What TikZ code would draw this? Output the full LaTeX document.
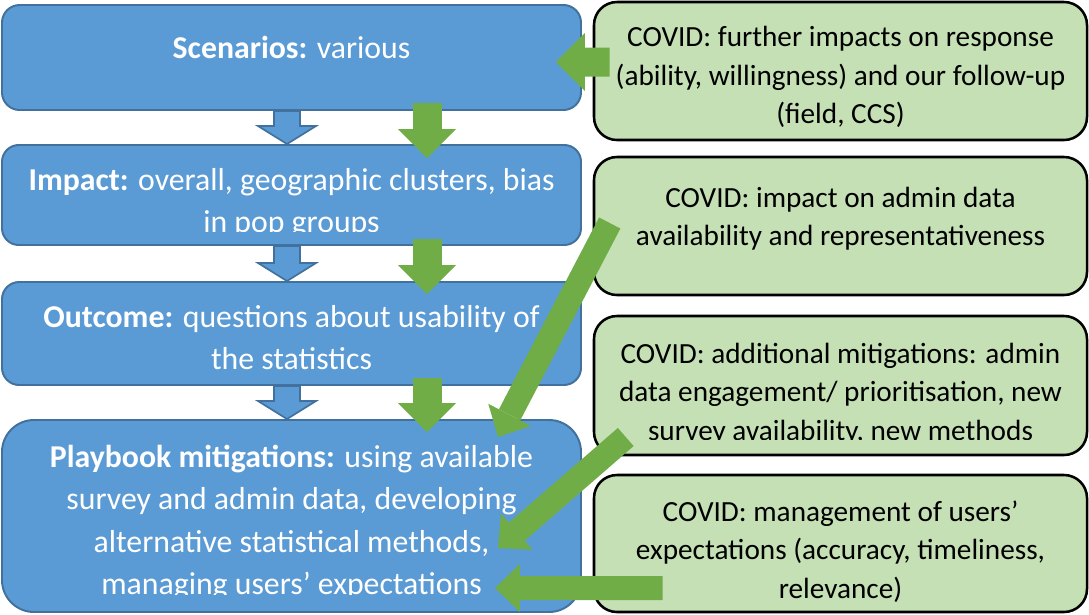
\documentclass[tikz,border=0pt]{standalone}
\usepackage{fontspec}
\setmainfont{Carlito}
\usetikzlibrary{arrows.meta,calc}

\definecolor{stagefill}{HTML}{5B9BD5}
\definecolor{stageline}{HTML}{41719C}
\definecolor{covidfill}{HTML}{C5E0B4}
\definecolor{covidarrow}{HTML}{70AD47}

% outlined block arrow from #1 down to its tip #2
\newcommand{\stagearrow}[2]{%
  \draw[stageflow] ($(#1)+(-0.325,0)$) -- ($(#2)+(-0.325,0.45)$)
    -- ($(#2)+(-0.725,0.45)$) -- (#2) -- ($(#2)+(0.725,0.45)$)
    -- ($(#2)+(0.325,0.45)$) -- ($(#1)+(0.325,0)$) -- cycle;}

\begin{document}
\begin{tikzpicture}[
    stage/.style = {
      draw = stageline,
      fill = stagefill,
      line width = 1.4pt,
      minimum width = 14.475cm
    },
    stagetext/.style = {
      text = white,
      align = center,
      font = \fontsize{22.6}{30}\selectfont
    },
    covid/.style = {
      draw,
      fill = covidfill,
      line width = 1.8pt,
      rounded corners = 0.575cm,
      minimum width = 12.325cm
    },
    covidtext/.style = {
      align = center,
      font = \fontsize{20.8}{27.2}\selectfont
    },
    stageflow/.style = {
      draw = stageline,
      fill = stagefill,
      line width = 1.2pt
    },
    bigpush/.style = {
      draw = covidarrow,
      line width = 0.725cm,
      -{Triangle[length=0.725cm, width=1.45cm, line width=0pt]}
    },
    push/.style = {
      draw = covidarrow,
      line width = 0.6cm,
      -{Triangle[length=0.625cm, width=1.2cm, line width=0pt]}
    }
  ]
  \useasboundingbox (0,0) rectangle (27.225,-15.35);

  % the four stages
  \node[stage, minimum height=2.625cm, rounded corners=0.44cm] (scen) at (7.2875,-1.4375) {};
  \node[stage, minimum height=2.5cm, rounded corners=0.42cm] (impact) at (7.2875,-4.875) {};
  \node[stage, minimum height=2.575cm, rounded corners=0.43cm] (outcome) at (7.2875,-8.3375) {};
  \node[stage, minimum height=4.8cm, rounded corners=0.8cm] (playbook) at (7.2875,-12.9) {};

  \node[stagetext] (scen-txt) at (7.2875,-1.175) {\textbf{Scenarios:} various};
  \begin{scope}
    \clip (impact.north west) rectangle ([yshift=0.3625cm]impact.south east);
    \node[stagetext] (impact-txt) at (7.2875,-5.075)
      {\textbf{Impact:} overall, geographic clusters, bias\\in pop groups};
  \end{scope}
  \node[stagetext] (outcome-txt) at (7.2875,-8.4375)
    {\textbf{Outcome:} questions about usability of\\the statistics};
  \begin{scope}
    \clip (playbook.north west) rectangle ([yshift=0.45cm]playbook.south east);
    \node[stagetext] (playbook-txt) at (7.2875,-13.0625)
      {\textbf{Playbook mitigations:} using available\\survey and admin data, developing\\alternative statistical methods,\\managing users’ expectations};
  \end{scope}

  % covid boxes
  \node[covid, minimum height=3.45cm] (covresp) at (21.0125,-1.775) {};
  \node[covid, minimum height=3.45cm] (covadmin) at (21.0125,-5.65) {};
  \node[covid, minimum height=3.475cm] (covmitig) at (21.0125,-9.6375) {};
  \node[covid, minimum height=3.425cm] (covusers) at (21.0125,-13.5875) {};

  \node[covidtext] (covresp-txt) at (21.0125,-1.925)
    {COVID: further impacts on response\\(ability, willingness) and our follow-up\\(field, CCS)};
  \node[covidtext] (covadmin-txt) at (21.0125,-5.475)
    {COVID: impact on admin data\\availability and representativeness};
  \begin{scope}
    \clip (covmitig.north west) rectangle ([yshift=0.425cm]covmitig.south east);
    \node[covidtext] (covmitig-txt) at (21.0125,-9.85)
      {COVID: additional mitigations: admin\\data engagement/ prioritisation, new\\survey availability, new methods};
  \end{scope}
  \node[covidtext] (covusers-txt) at (21.0125,-13.7875)
    {COVID: management of users’\\expectations (accuracy, timeliness,\\relevance)};

  % blue steps
  \coordinate (a1) at ([xshift=-0.1125cm]scen.south);
  \coordinate (b1) at ([xshift=-0.1125cm]impact.north);
  \coordinate (a2) at ([xshift=-0.1125cm]impact.south);
  \coordinate (b2) at ([xshift=-0.1125cm]outcome.north);
  \coordinate (a3) at ([xshift=-0.1125cm]outcome.south);
  \coordinate (b3) at ([xshift=-0.1125cm]playbook.north);
  \stagearrow{a1}{b1}
  \stagearrow{a2}{b2}
  \stagearrow{a3}{b3}

  % green pushes
  \draw[bigpush] ([shift={(3.3875,0.2)}]scen.south) -- ([shift={(3.3875,-0.35)}]impact.north);
  \draw[bigpush] ([shift={(3.3875,0.175)}]impact.south) -- ([shift={(3.3875,-0.325)}]outcome.north);
  \draw[bigpush] ([shift={(3.3875,0.2)}]outcome.south) -- ([shift={(3.3875,-0.325)}]playbook.north);
  \draw[bigpush] ([shift={(0.425,0.225)}]covresp.west) -- ([shift={(-0.65,-0.1125)}]scen.east);
  \draw[push] ([shift={(0.425,0.075)}]covadmin.west) -- ([shift={(-2.1,-0.45)}]playbook.north east);
  \draw[push] ([shift={(0.825,-1.2875)}]covmitig.west) -- ([shift={(-2.1,-0.8)}]playbook.east);
  \draw[push] ([shift={(1.75,-1.1125)}]covusers.west) -- ([shift={(-2.175,-1.8)}]playbook.east);
\end{tikzpicture}
\end{document}
